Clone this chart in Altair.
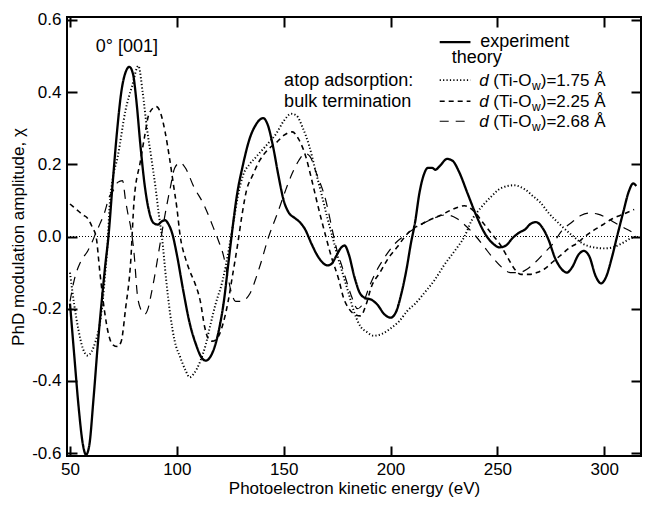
import altair as alt
import pandas as pd

FONT = "Liberation Sans"

# ---------------- data ----------------
exp_E = [50, 52, 54, 56, 57.5, 59, 61, 63, 65, 66.5, 68, 70, 72, 74, 76, 77.8, 79.5, 81, 83, 85, 87, 89, 91, 93, 94.5, 96, 98, 100, 103, 106, 109, 111.5, 113.5, 116, 118, 120, 122, 124, 126, 128, 131, 134, 137, 140.4, 142.5, 145, 147.5, 150, 152.5, 155, 157.5, 160, 163, 166, 170.5, 172.5, 174.5, 177, 178.5, 180.5, 183, 185.5, 188, 191, 194, 197, 200, 202.5, 205, 207.5, 209.5, 211.5, 213.5, 215.5, 217.5, 219.5, 221, 223, 226.5, 229, 232, 236, 240, 244, 248, 251, 254, 257, 260, 263, 265.5, 268, 271, 274, 277, 280, 282.5, 285, 288, 290.5, 293, 296, 298.5, 301, 303.5, 306, 309, 311.5, 313.5, 315]
exp_chi = [-0.186, -0.33, -0.47, -0.575, -0.605, -0.58, -0.45, -0.3, -0.17, -0.08, 0.0, 0.15, 0.29, 0.40, 0.455, 0.47, 0.45, 0.38, 0.25, 0.14, 0.07, 0.038, 0.033, 0.042, 0.045, 0.035, 0.005, -0.05, -0.15, -0.24, -0.3, -0.335, -0.344, -0.33, -0.3, -0.25, -0.18, -0.08, 0.02, 0.11, 0.2, 0.27, 0.31, 0.328, 0.31, 0.25, 0.17, 0.1, 0.065, 0.052, 0.04, 0.02, -0.02, -0.055, -0.08, -0.075, -0.055, -0.03, -0.025, -0.05, -0.11, -0.155, -0.17, -0.175, -0.19, -0.215, -0.225, -0.21, -0.16, -0.09, -0.02, 0.04, 0.12, 0.17, 0.19, 0.19, 0.185, 0.195, 0.215, 0.21, 0.18, 0.12, 0.06, 0.01, -0.02, -0.03, -0.025, -0.005, 0.01, 0.02, 0.035, 0.04, 0.025, -0.01, -0.06, -0.09, -0.1, -0.085, -0.05, -0.04, -0.055, -0.11, -0.13, -0.11, -0.06, 0.0, 0.07, 0.125, 0.147, 0.14]

t175_E = [50, 52, 54, 56, 58.3, 60, 62, 64, 65.3, 66.5, 67.6, 68.5, 70, 72.3, 76, 79.2, 82, 84, 86, 88, 90, 91.6, 93, 95, 97, 99, 101.6, 104, 106, 108, 111, 113.5, 115.5, 118, 121.5, 124.5, 126.5, 128.5, 131, 134, 137, 140, 143, 146.5, 150, 153.5, 156, 159, 162, 165, 168, 170.5, 172.8, 175, 177.5, 180.5, 183, 186, 189, 192, 196, 200, 204, 208, 211.4, 216, 220.7, 225, 230, 234.6, 238, 242.3, 247, 252, 257.8, 263, 267, 270, 274, 279, 285.6, 290, 295, 300, 304, 308, 312.5, 315]
t175_chi = [-0.1, -0.19, -0.26, -0.31, -0.33, -0.32, -0.29, -0.24, -0.18, -0.1, -0.02, 0.08, 0.16, 0.22, 0.35, 0.42, 0.473, 0.40, 0.30, 0.22, 0.137, 0.06, 0.0, -0.12, -0.22, -0.29, -0.335, -0.37, -0.39, -0.38, -0.345, -0.3, -0.25, -0.19, -0.12, -0.03, 0.04, 0.11, 0.17, 0.2, 0.22, 0.24, 0.26, 0.285, 0.32, 0.34, 0.335, 0.3, 0.25, 0.18, 0.11, 0.05, 0.0, -0.05, -0.1, -0.16, -0.21, -0.25, -0.265, -0.275, -0.27, -0.255, -0.235, -0.205, -0.187, -0.155, -0.12, -0.08, -0.04, 0.0, 0.045, 0.08, 0.11, 0.135, 0.142, 0.13, 0.11, 0.095, 0.065, 0.035, 0.0, -0.02, -0.03, -0.033, -0.03, -0.02, -0.005, 0.0]

t225_E = [50, 53, 56, 58.3, 60.5, 62.2, 64, 66, 68, 70, 72.3, 74, 76, 78.4, 80, 83, 85, 87, 90.4, 92.5, 94.5, 96.5, 98.5, 100, 101.6, 104, 106, 108.5, 111, 113, 114.5, 116.5, 118.5, 121.7, 124, 126, 128.5, 130.5, 132.6, 135.5, 138.7, 142.5, 146.5, 150, 154, 157, 160.4, 163, 165, 167.5, 169.7, 172.5, 175.8, 178, 180.5, 183, 186, 188.5, 191, 195, 199, 203, 206.8, 210, 213, 218, 223.8, 229, 234.6, 239, 243, 247, 251.6, 255, 258, 261, 265, 268.5, 272, 276, 280, 284, 287, 291, 295, 300, 304, 309, 314]
t225_chi = [0.09, 0.075, 0.06, 0.05, 0.025, 0.0, -0.1, -0.2, -0.27, -0.3, -0.305, -0.29, -0.2, -0.07, 0.1, 0.21, 0.28, 0.34, 0.36, 0.34, 0.29, 0.22, 0.14, 0.08, 0.0, -0.06, -0.095, -0.13, -0.18, -0.25, -0.28, -0.29, -0.285, -0.24, -0.18, -0.11, -0.02, 0.06, 0.128, 0.17, 0.21, 0.24, 0.26, 0.28, 0.29, 0.27, 0.22, 0.16, 0.11, 0.05, 0.0, -0.06, -0.12, -0.17, -0.2, -0.215, -0.22, -0.19, -0.14, -0.1, -0.06, -0.03, 0.0, 0.02, 0.03, 0.045, 0.06, 0.075, 0.085, 0.07, 0.04, 0.01, -0.025, -0.06, -0.09, -0.105, -0.105, -0.1, -0.09, -0.07, -0.05, -0.03, -0.02, 0.0, 0.017, 0.035, 0.05, 0.062, 0.075]

t268_E = [50, 52, 55, 58.3, 60, 62, 64, 66, 68.4, 70.5, 72.3, 74.6, 76, 77.2, 78.4, 80, 81.5, 83, 85, 86.5, 88, 89.3, 91.6, 94, 97, 99, 101.6, 104, 108, 112.5, 117, 120, 121.7, 123.5, 125.5, 127.5, 130, 134, 138.7, 143, 147, 151, 154, 157, 160, 162.5, 165, 169.7, 172.8, 175, 177.4, 180, 182, 184.5, 186.7, 190, 193, 197, 202, 206, 210, 215, 220, 226, 231, 236, 240, 244, 248, 252, 256, 260, 264, 268, 272, 276, 280, 285, 289, 293, 297, 301, 305, 309, 313, 315]
t268_chi = [-0.18, -0.12, -0.07, -0.04, -0.02, 0.008, 0.035, 0.063, 0.11, 0.13, 0.15, 0.155, 0.1, 0.06, 0.026, -0.048, -0.16, -0.2, -0.215, -0.2, -0.16, -0.12, -0.04, 0.045, 0.137, 0.19, 0.205, 0.19, 0.137, 0.09, 0.026, -0.02, -0.05, -0.1, -0.155, -0.18, -0.18, -0.16, -0.085, 0.0, 0.063, 0.13, 0.175, 0.21, 0.23, 0.22, 0.18, 0.1, 0.017, -0.04, -0.085, -0.135, -0.17, -0.2, -0.19, -0.14, -0.1, -0.06, -0.02, 0.0, 0.017, 0.035, 0.05, 0.06, 0.05, 0.025, 0.0, -0.03, -0.06, -0.085, -0.1, -0.1, -0.09, -0.07, -0.045, -0.02, 0.015, 0.04, 0.058, 0.065, 0.062, 0.052, 0.038, 0.025, 0.012, 0.005]

series_names = ["experiment", "d=1.75", "d=2.25", "d=2.68"]

x_ticks = [50, 100, 150, 200, 250, 300]
y_ticks = [-0.6, -0.4, -0.2, 0.0, 0.2, 0.4, 0.6]

ann_text = ["0° [001]", "atop adsorption:", "bulk termination", "experiment", "theory"]
ann_E = [62.06, 150.2, 150.2, 242.0, 228.6]
ann_chi = [0.511, 0.4167, 0.3583, 0.525, 0.4806]

leg_series = ["experiment", "d=1.75", "d=2.25", "d=2.68"]
leg_line_chi = [0.5389, 0.4333, 0.375, 0.3194]
leg_line_E0 = 223.0
leg_line_E1 = 237.4

leg_val = ["1.75 Å", "2.25 Å", "2.68 Å"]
leg_text_chi = [0.4167, 0.3583, 0.3028]
leg_text_E = 241.55

# ---------------- build tables ----------------
rows = []
for name, E, chi in zip(series_names, [exp_E, t175_E, t225_E, t268_E], [exp_chi, t175_chi, t225_chi, t268_chi]):
    for e, c in zip(E, chi):
        rows.append({"E": e, "chi": c, "series": name})
df = pd.DataFrame(rows)

leg_df = pd.DataFrame({"series": leg_series, "chi": leg_line_chi,
                       "E0": [leg_line_E0] * 4, "E1": [leg_line_E1] * 4})
ann_df = pd.DataFrame({"t": ann_text, "E": ann_E, "chi": ann_chi})
legt_df = pd.DataFrame({"val": leg_val, "chi": leg_text_chi, "E": [leg_text_E] * 3})

xscale = alt.Scale(domain=[48.6, 317.2], nice=False, zero=False)
yscale = alt.Scale(domain=[-0.6083, 0.6083], nice=False, zero=False)
dash_scale = alt.Scale(domain=series_names, range=[[1, 0], [1.2, 2.2], [5, 4], [9, 7]])
width_scale = alt.Scale(domain=series_names, range=[2.3, 1.2, 1.2, 1.2])

common_axis = dict(domain=False, grid=False, tickSize=alt.ExprRef("-10"), tickWidth=2,
                   tickColor="black", labelFont=FONT, labelFontSize=17, labelColor="black",
                   titleFont=FONT, titleFontSize=17, titleFontWeight="normal", titleColor="black")

x_axis = alt.Axis(values=x_ticks, format="d", title="Photoelectron kinetic energy (eV)",
                  labelPadding=15, titlePadding=3, **common_axis)
y_axis = alt.Axis(values=y_ticks, title="PhD modulation amplitude, χ",
                  labelExpr="(datum.value < -0.001 ? '-' : '') + format(abs(datum.value), '.1f')",
                  labelPadding=16, titlePadding=4, **common_axis)
x_axis_top = alt.Axis(values=x_ticks, orient="top", labels=False, title=None, domain=False,
                      grid=False, tickSize=alt.ExprRef("-10"), tickWidth=2, tickColor="black")
y_axis_right = alt.Axis(values=y_ticks, orient="right", labels=False, title=None, domain=False,
                        grid=False, tickSize=alt.ExprRef("-10"), tickWidth=2, tickColor="black")

curves = alt.Chart(df).mark_line(interpolate="monotone", clip=True, color="black").encode(
    x=alt.X("E:Q", scale=xscale, axis=x_axis),
    y=alt.Y("chi:Q", scale=yscale, axis=y_axis),
    detail="series:N",
    strokeDash=alt.StrokeDash("series:N", scale=dash_scale, legend=None),
    strokeWidth=alt.StrokeWidth("series:N", scale=width_scale, legend=None),
    order=alt.Order("E:Q"),
)

ghost = alt.Chart(df).mark_point(opacity=0).encode(
    x=alt.X("E:Q", scale=xscale, axis=x_axis_top),
    y=alt.Y("chi:Q", scale=yscale, axis=y_axis_right),
)

zero = alt.Chart(df).mark_rule(color="black", strokeDash=[1, 2], strokeWidth=0.8).encode(
    y=alt.YDatum(0, scale=yscale, axis=None)
)

leg_lines = alt.Chart(leg_df).mark_rule(color="black").encode(
    x=alt.X("E0:Q", scale=xscale, axis=None),
    x2="E1:Q",
    y=alt.Y("chi:Q", scale=yscale, axis=None),
    strokeDash=alt.StrokeDash("series:N", scale=dash_scale, legend=None),
    strokeWidth=alt.StrokeWidth("series:N", scale=width_scale, legend=None),
)

def txt(data, field, dx=0, dy=0, size=18, style="normal"):
    return alt.Chart(data).mark_text(align="left", baseline="alphabetic", font=FONT,
                                     fontSize=size, fontStyle=style, color="black",
                                     dx=dx, dy=dy).encode(
        x=alt.X("E:Q", scale=xscale, axis=None),
        y=alt.Y("chi:Q", scale=yscale, axis=None),
        text=field,
    )

ann = txt(ann_df, "t:N", size=18)
legt_df = legt_df.assign(d="d", ti="(Ti-O", w="w", rest=[")=" + v for v in leg_val])
l1 = txt(legt_df, "d:N", size=17, style="italic")
l2 = txt(legt_df, "ti:N", dx=14, size=17)
l3 = txt(legt_df, "w:N", dx=52.7, dy=4, size=12)
l4 = txt(legt_df, "rest:N", dx=61.4, size=17)

chart = alt.layer(zero, curves, ghost, leg_lines, ann, l1, l2, l3, l4).resolve_axis(
    x="independent", y="independent"
).properties(
    width=574, height=439,
    padding={"left": 59, "right": 1, "top": 9, "bottom": 43},
    autosize=alt.AutoSizeParams(type="none"),
).configure_view(stroke="black", strokeWidth=2)

chart.save("out.html", embed_options={"renderer": "svg", "actions": False})
